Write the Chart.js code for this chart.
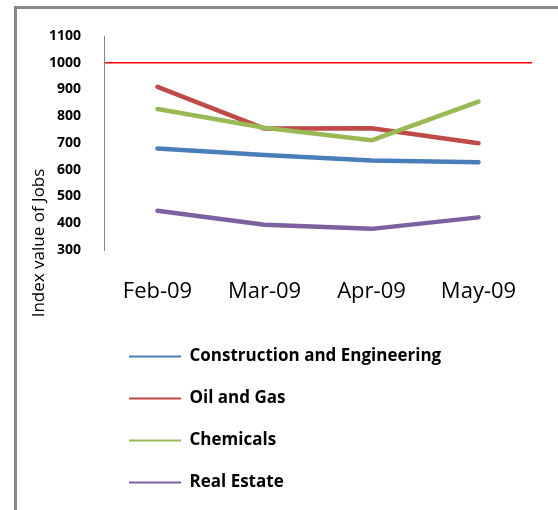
<!DOCTYPE html>
<html>
<head>
<meta charset="utf-8">
<script src="https://cdn.jsdelivr.net/npm/chart.js@4/dist/chart.umd.min.js"></script>
<style>
  html, body { margin: 0; padding: 0; background: #fff; }
  #wrap { position: relative; width: 558px; height: 510px; overflow: hidden; }
  #frame { position: absolute; left: 14px; top: 6px; right: -10px; bottom: -10px;
           border-left: 3px solid #878787; border-top: 3px solid #878787; }
  #c { position: absolute; left: 0; top: 0; }
</style>
</head>
<body>
<div id="wrap">
  <div id="frame"></div>
  <canvas id="c" width="558" height="510"></canvas>
</div>
<script>
const categories = ['Feb-09', 'Mar-09', 'Apr-09', 'May-09'];
const seriesNames = ['Construction and Engineering', 'Oil and Gas', 'Chemicals', 'Real Estate'];
const construction = [679, 655, 635, 628];
const oilGas = [910, 754, 755, 699];
const chemicals = [827, 757, 710, 855];
const realEstate = [447, 394, 379, 422];
const seriesColors = ['#4A7EBB', '#BE4B48', '#98B954', '#7D60A0'];
const yMin = 300, yMax = 1100, yStep = 100, referenceLevel = 1000;

const FONT = "'Open Sans', 'DejaVu Sans', sans-serif";

// one legend entry per row, left aligned; y title centred lower like the original
const layoutTweaks = {
  id: 'layoutTweaks',
  beforeUpdate(chart) {
    const lg = chart.legend;
    if (!lg || lg.__patched) return;
    lg.__patched = true;
    const fitRows = lg._fitRows;
    lg._fitRows = function (...a) {
      const mw = this.maxWidth; this.maxWidth = 0;
      const r = fitRows.apply(this, a);
      this.maxWidth = mw; return r;
    };
    const draw = lg._draw;
    lg._draw = function () {
      const r = this.right; this.right = this.left;
      draw.call(this);
      this.right = r;
    };
  },
  beforeDraw(chart) {
    const s = chart.scales.y;
    if (!s || s.__patched) return;
    s.__patched = true;
    const dt = s.drawTitle;
    s.drawTitle = function () {
      const t = this.top, b = this.bottom;
      const centre = 243, half = (b - t) / 2;
      this.top = centre - half; this.bottom = centre + half;
      dt.call(this);
      this.top = t; this.bottom = b;
    };
  }
};

const allSeries = [construction, oilGas, chemicals, realEstate];
const datasets = allSeries.map((d, i) => ({
  label: seriesNames[i],
  data: d,
  borderColor: seriesColors[i],
  backgroundColor: seriesColors[i],
  borderWidth: 4.5,
  pointRadius: 0,
  pointHoverRadius: 0,
  tension: 0,
  borderJoinStyle: 'round',
  borderCapStyle: 'round',
  order: allSeries.length - i
}));

new Chart(document.getElementById('c'), {
  type: 'line',
  data: { labels: categories, datasets },
  plugins: [layoutTweaks],
  options: {
    responsive: false,
    animation: false,
    devicePixelRatio: 1,
    layout: { padding: { left: 10, right: 26, top: 36, bottom: 9 } },
    plugins: {
      tooltip: { enabled: false },
      legend: {
        position: 'bottom',
        align: 'start',
        fullSize: false,
        labels: {
          color: '#000',
          font: { family: FONT, size: 17, weight: 'bold' },
          boxWidth: 52,
          boxHeight: 2,
          padding: 25,
          sort: (a, b) => a.datasetIndex - b.datasetIndex,
          generateLabels(chart) {
            const items = Chart.defaults.plugins.legend.labels.generateLabels(chart);
            return items.map(it => Object.assign(it, { lineWidth: 0, fillStyle: it.strokeStyle }));
          }
        }
      }
    },
    scales: {
      x: {
        offset: true,
        grid: { display: false, drawTicks: false, offset: true },
        border: { display: false },
        ticks: { color: '#000', font: { family: FONT, size: 22 }, padding: 29, maxRotation: 0 },
        afterFit(scale) { scale.height = 73; }
      },
      y: {
        min: yMin, max: yMax,
        ticks: {
          stepSize: yStep, color: '#000',
          font: { family: FONT, size: 14, weight: 'bold' }, padding: 23,
          callback: v => String(v)
        },
        grid: {
          drawTicks: false,
          color: ctx => (ctx.tick && ctx.tick.value === referenceLevel) ? '#FF0000' : 'rgba(0,0,0,0)',
          lineWidth: ctx => (ctx.tick && ctx.tick.value === referenceLevel) ? 1.5 : 1
        },
        border: { display: true, color: '#868686', width: 1 },
        title: {
          display: true,
          text: 'Index value of Jobs',
          color: '#000',
          font: { family: FONT, size: 17 },
          padding: { top: 19, bottom: 0 }
        },
        afterFit(scale) { scale.width = 94; }
      }
    }
  }
});
</script>
</body>
</html>
